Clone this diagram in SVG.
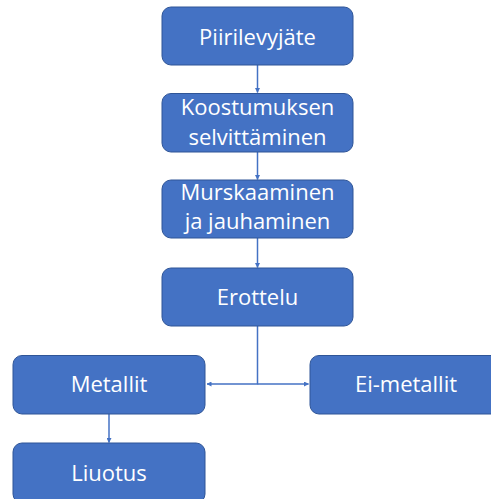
<svg xmlns="http://www.w3.org/2000/svg" width="491" height="499" viewBox="0 0 491 499">
<defs>
<style>
.box{fill:#4472C4;stroke:#2F5597;stroke-width:1}
.t{font-family:"Open Sans","Noto Sans",sans-serif;font-size:22px;fill:#FFFFFF;text-anchor:middle}
.c{fill:none;stroke:#4472C4;stroke-width:1.5}
</style>
<marker id="ah" viewBox="0 0 10 10" refX="9" refY="5" markerWidth="5" markerHeight="5" orient="auto" markerUnits="userSpaceOnUse">
<path d="M0,0 L10,5 L0,10 z" fill="#4472C4"/>
</marker>
</defs>
<rect width="491" height="499" fill="#FFFFFF"/>
<g id="connectors">
<line class="c" x1="257.5" y1="65" x2="257.5" y2="92.5" marker-end="url(#ah)"/>
<line class="c" x1="257.5" y1="152" x2="257.5" y2="179.5" marker-end="url(#ah)"/>
<line class="c" x1="257.5" y1="238" x2="257.5" y2="267.5" marker-end="url(#ah)"/>
<polyline class="c" points="257.5,326 257.5,384 207,384" marker-end="url(#ah)"/>
<polyline class="c" points="257.5,384 308.5,384" marker-end="url(#ah)"/>
<line class="c" x1="109" y1="414" x2="109" y2="442.5" marker-end="url(#ah)"/>
</g>
<g id="n1"><rect class="box" x="162" y="7" width="191" height="58" rx="9"/><text class="t" x="257.5" y="45">Piirilevyjäte</text></g>
<g id="n2"><rect class="box" x="162" y="93.5" width="191" height="58.5" rx="9"/><text class="t" x="257.5" y="115">Koostumuksen</text><text class="t" x="257.5" y="145">selvittäminen</text></g>
<g id="n3"><rect class="box" x="162" y="180" width="191" height="58" rx="9"/><text class="t" x="257.5" y="200">Murskaaminen</text><text class="t" x="257.5" y="229">ja jauhaminen</text></g>
<g id="n4"><rect class="box" x="162" y="268" width="191" height="58" rx="9"/><text class="t" x="257.5" y="305">Erottelu</text></g>
<g id="n5"><rect class="box" x="13" y="355.5" width="192" height="58.5" rx="9"/><text class="t" x="109" y="392">Metallit</text></g>
<g id="n6"><rect class="box" x="310" y="355.5" width="192" height="58.5" rx="9"/><text class="t" x="406" y="392">Ei-metallit</text></g>
<g id="n7"><rect class="box" x="13" y="443" width="192" height="60" rx="9"/><text class="t" x="109" y="481">Liuotus</text></g>
</svg>
